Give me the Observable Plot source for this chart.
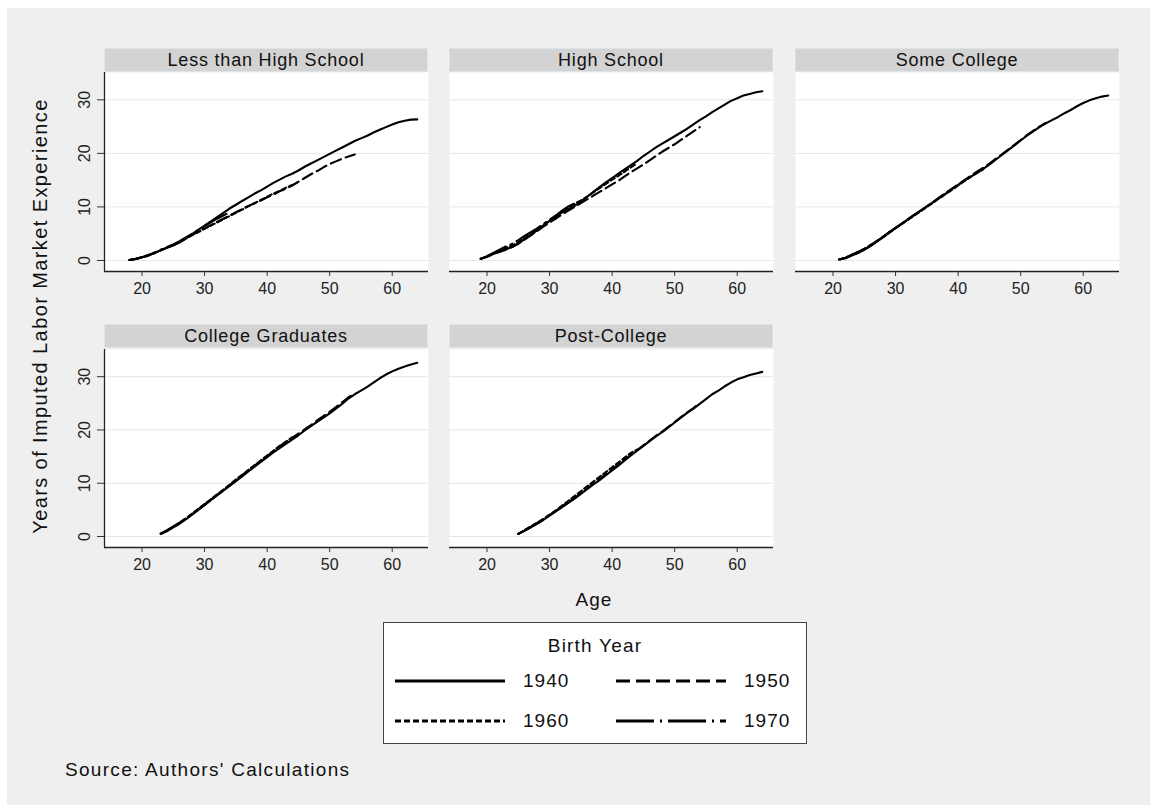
<!DOCTYPE html>
<html><head><meta charset="utf-8">
<script src="https://cdn.jsdelivr.net/npm/d3@7"></script>
<script src="https://cdn.jsdelivr.net/npm/@observablehq/plot@0.6"></script>
<style>
body{margin:0;background:#fff;font-family:"Liberation Sans",Arial,sans-serif;}
#page{position:relative;width:1157px;height:810px;overflow:hidden;}
#bg{position:absolute;left:7px;top:8px;width:1143px;height:797px;background:#efefef;}
.strip{position:absolute;height:24px;background:#d3d3d3;border:1px solid #dbe5e9;box-sizing:border-box;text-align:center;font-size:18px;letter-spacing:0.8px;line-height:22px;color:#111;}
.panel{position:absolute;}
.panel svg{overflow:visible;background:transparent;}
#ytitle{position:absolute;left:40px;top:316px;transform:translate(-50%,-50%) rotate(-90deg);font-size:20px;letter-spacing:1.4px;white-space:nowrap;color:#111;}
#xtitle{position:absolute;left:594px;top:600px;transform:translate(-50%,-50%);font-size:19px;letter-spacing:1px;color:#111;}
#legend{position:absolute;left:383px;top:622px;width:424px;height:122px;background:#fff;border:1px solid #444;box-sizing:border-box;}
#legend .ttl{position:absolute;left:0;width:100%;top:12px;text-align:center;font-size:19px;letter-spacing:1.2px;color:#111;}
#legend .item{position:absolute;font-size:19px;letter-spacing:1px;color:#111;}
#source{position:absolute;left:65px;top:759px;font-size:19px;letter-spacing:1.3px;color:#111;}
</style></head>
<body><div id="page"><div id="bg"></div></div>
<script>
// ---- data ----
const panels = ["Less than High School", "High School", "Some College", "College Graduates", "Post-College"];
const cohorts = ["1940", "1950", "1960", "1970"];
const startAges = [18, 19, 21, 23, 25];
const xTicks = [20, 30, 40, 50, 60];
const yTicks = [0, 10, 20, 30];

// Less than High School (ages from 18)
const lessHS_1940 = [0.1,0.3,0.6,0.9,1.4,1.9,2.4,2.8,3.4,4.1,4.9,5.7,6.5,7.3,8.1,8.9,9.7,10.4,11.1,11.8,12.5,13.1,13.8,14.5,15.1,15.7,16.2,16.8,17.5,18.1,18.7,19.3,19.9,20.5,21.1,21.7,22.3,22.8,23.3,23.9,24.4,24.9,25.4,25.8,26.1,26.3,26.35];
const lessHS_1950 = [0.1,0.3,0.6,0.9,1.4,1.9,2.4,2.8,3.4,4.1,4.8,5.4,6.0,6.6,7.2,7.8,8.4,9.0,9.6,10.2,10.7,11.2,11.8,12.3,12.9,13.4,14.0,14.7,15.4,16.1,16.7,17.4,18.0,18.5,19.0,19.4,19.8];
const lessHS_1960 = [0.1,0.3,0.6,1.0,1.4,1.9,2.4,2.9,3.5,4.1,4.7,5.3,5.9,6.5,7.1,7.7,8.3,8.9,9.5,10.1,10.7,11.3,11.9,12.5,13.0,13.6,14.1];
const lessHS_1970 = [0.1,0.3,0.6,1.0,1.5,2.0,2.5,3.0,3.6,4.3,5.0,5.7,6.4,7.1,7.8,8.4,9.0];

// High School (ages from 19)
const hs_1940 = [0.3,0.7,1.2,1.7,2.1,2.5,3.2,4.0,4.8,5.6,6.5,7.4,8.2,9.0,9.6,10.2,11.0,11.9,12.8,13.7,14.6,15.4,16.2,17.0,17.8,18.6,19.5,20.3,21.1,21.8,22.5,23.2,23.9,24.6,25.4,26.2,26.9,27.7,28.4,29.1,29.8,30.3,30.8,31.1,31.4,31.6];
const hs_1950 = [0.3,0.7,1.2,1.6,2.0,2.5,3.1,3.9,4.7,5.5,6.3,7.1,7.8,8.6,9.3,10.0,10.7,11.4,12.1,12.8,13.5,14.2,14.9,15.7,16.5,17.2,17.9,18.7,19.5,20.3,21.0,21.7,22.5,23.3,24.1,24.9];
const hs_1960 = [0.3,0.8,1.3,1.8,2.3,2.8,3.4,4.2,5.0,5.8,6.6,7.4,8.3,9.1,9.9,10.6,11.2,11.9,12.7,13.5,14.3,15.1,15.8,16.6,17.4,18.1];
const hs_1970 = [0.3,0.8,1.4,2.0,2.6,3.1,3.8,4.6,5.3,6.0,6.8,7.6,8.4,9.3,10.1,10.7];

// Some College (ages from 21)
const sc_1940 = [0.2,0.4,0.9,1.4,2.0,2.7,3.5,4.3,5.2,6.1,6.9,7.7,8.5,9.3,10.1,10.9,11.7,12.5,13.3,14.1,14.9,15.6,16.4,17.1,17.9,18.8,19.7,20.6,21.5,22.4,23.3,24.1,24.9,25.6,26.2,26.8,27.5,28.1,28.8,29.4,29.9,30.3,30.6,30.8];
const sc_1950 = [0.2,0.5,1.0,1.5,2.1,2.8,3.6,4.4,5.3,6.1,6.9,7.7,8.5,9.3,10.1,10.9,11.8,12.6,13.4,14.2,15.0,15.8,16.6,17.3,18.1,19.0,19.8,20.7,21.6,22.5,23.4,24.2,25.0,25.7];
const sc_1960 = [0.2,0.5,1.0,1.6,2.2,2.9,3.6,4.4,5.2,6.0,6.8,7.6,8.4,9.2,10.0,10.8,11.6,12.4,13.2,14.0,14.8,15.6,16.3,17.0];
const sc_1970 = [0.2,0.5,1.1,1.6,2.1,2.8,3.6,4.4,5.3,6.1,6.9,7.7,8.5,9.3];

// College Graduates (ages from 23)
const cg_1940 = [0.5,1.0,1.7,2.4,3.2,4.1,5.0,5.9,6.8,7.7,8.6,9.5,10.4,11.3,12.2,13.1,14.0,14.9,15.8,16.6,17.4,18.2,19.0,19.9,20.7,21.5,22.3,23.1,24.0,24.9,25.9,26.7,27.4,28.1,28.9,29.7,30.4,31.0,31.5,31.9,32.3,32.6];
const cg_1950 = [0.5,1.1,1.8,2.5,3.3,4.2,5.1,6.0,6.9,7.8,8.7,9.6,10.5,11.5,12.4,13.3,14.2,15.1,16.0,16.9,17.7,18.5,19.3,20.1,20.9,21.8,22.6,23.4,24.3,25.2,26.1,26.9];
const cg_1960 = [0.5,1.1,1.8,2.6,3.4,4.3,5.2,6.1,7.0,7.9,8.8,9.7,10.7,11.6,12.5,13.4,14.3,15.2,16.1,17.0,17.8,18.6];
const cg_1970 = [0.6,1.2,1.9,2.6,3.4,4.2,5.1,6.0,6.9,7.8,8.7,9.6];

// Post-College (ages from 25)
const pc_1940 = [0.5,1.1,1.7,2.4,3.1,3.9,4.7,5.5,6.3,7.1,8.0,8.9,9.8,10.6,11.5,12.4,13.3,14.3,15.2,16.1,17.0,17.9,18.8,19.6,20.5,21.4,22.3,23.2,24.0,24.9,25.8,26.7,27.4,28.2,28.9,29.5,29.9,30.3,30.6,30.9];
const pc_1950 = [0.5,1.1,1.8,2.5,3.2,4.0,4.8,5.6,6.4,7.2,8.1,9.0,9.9,10.8,11.7,12.6,13.5,14.4,15.3,16.2,17.1,18.0,18.9,19.7,20.6,21.5,22.4,23.3,24.1,25.0];
const pc_1960 = [0.5,1.2,1.9,2.6,3.3,4.1,4.9,5.8,6.7,7.6,8.5,9.4,10.3,11.2,12.1,13.0,13.9,14.8,15.7,16.3];
const pc_1970 = [0.5,1.1,1.8,2.5,3.2,4.0,4.8,5.6,6.4,7.2];

const series = [
  [lessHS_1940, lessHS_1950, lessHS_1960, lessHS_1970],
  [hs_1940, hs_1950, hs_1960, hs_1970],
  [sc_1940, sc_1950, sc_1960, sc_1970],
  [cg_1940, cg_1950, cg_1960, cg_1970],
  [pc_1940, pc_1950, pc_1960, pc_1970]
];

// ---- styles / layout ----
const dash = {"1940": null, "1950": "11,5", "1960": "5,3", "1970": "28,5,2,5"};
const legendDash = {"1940": null, "1950": "14,6", "1960": "6,3", "1970": "38,6,2,6"};
const cols = [104, 449, 795];
const rows = [{strip: 48, top: 72, h: 199}, {strip: 324, top: 349, h: 198}];
const W = 324, mL = 50, mR = 10, mB = 40;
const xDomain = [14, 65.8], yDomain = [-2.06, 35.1];

const page = document.getElementById("page");

panels.forEach((name, p) => {
  const col = p % 3, row = rows[Math.floor(p / 3)];
  const rowsData = [];
  cohorts.forEach((c, k) => series[p][k].forEach((v, i) => rowsData.push({cohort: c, age: startAges[p] + i, exp: v})));

  const strip = document.createElement("div");
  strip.className = "strip";
  strip.style.left = cols[col] + "px";
  strip.style.top = row.strip + "px";
  strip.style.width = W + "px";
  strip.textContent = name;
  page.appendChild(strip);

  const marks = [
    Plot.frame({fill: "white", stroke: null}),
    Plot.gridY(yTicks, {stroke: "#e6e6e6", strokeOpacity: 1}),
    ...cohorts.slice().reverse().map(c => Plot.line(rowsData.filter(d => d.cohort === c), {
      x: "age", y: "exp", stroke: "#000", strokeWidth: 2.1, strokeDasharray: dash[c]
    })),
    Plot.ruleY([yDomain[0]], {stroke: "#222", strokeWidth: 1.3}),
    Plot.axisX(xTicks, {tickSize: 5, tickPadding: 6, fontSize: 16, stroke: "#333", fill: "#222", label: null})
  ];
  if (col === 0) {
    marks.push(
      Plot.ruleX([xDomain[0]], {stroke: "#222", strokeWidth: 1.3}),
      Plot.axisY(yTicks, {tickSize: 7, tickFormat: () => "", stroke: "#333", label: null}),
      Plot.text(yTicks, {y: d => d, text: d => String(d), frameAnchor: "left", rotate: -90, dx: -20,
        textAnchor: "middle", lineAnchor: "middle", fontSize: 16, fill: "#222"})
    );
  }
  const chart = Plot.plot({
    width: mL + W + mR, height: row.h + mB,
    marginLeft: mL, marginRight: mR, marginTop: 0, marginBottom: mB,
    x: {domain: xDomain, label: null},
    y: {domain: yDomain, label: null, axis: col === 0 ? undefined : null},
    style: {background: "transparent", fontFamily: "Liberation Sans, Arial, sans-serif", overflow: "visible"},
    marks
  });
  const holder = document.createElement("div");
  holder.className = "panel";
  holder.style.left = (cols[col] - mL) + "px";
  holder.style.top = row.top + "px";
  holder.appendChild(chart);
  page.appendChild(holder);
});

// titles
const yt = document.createElement("div"); yt.id = "ytitle"; yt.textContent = "Years of Imputed Labor Market Experience"; page.appendChild(yt);
const xt = document.createElement("div"); xt.id = "xtitle"; xt.textContent = "Age"; page.appendChild(xt);

// legend
const lg = document.createElement("div"); lg.id = "legend";
lg.innerHTML = '<div class="ttl">Birth Year</div>';
const legPos = [{x: 10, y: 58}, {x: 231, y: 58}, {x: 10, y: 98}, {x: 231, y: 98}];
cohorts.forEach((c, i) => {
  const it = document.createElement("div");
  it.className = "item";
  it.style.left = legPos[i].x + "px";
  it.style.top = (legPos[i].y - 12) + "px";
  it.style.display = "flex"; it.style.alignItems = "center";
  it.innerHTML = `<svg width="112" height="24" style="margin-right:17px"><line x1="1" x2="111" y1="12" y2="12" stroke="#000" stroke-width="3" ${legendDash[c] ? `stroke-dasharray="${legendDash[c]}"` : ""}/></svg><span>${c}</span>`;
  lg.appendChild(it);
});
page.appendChild(lg);

const src = document.createElement("div"); src.id = "source"; src.textContent = "Source: Authors' Calculations"; page.appendChild(src);
</script>
</body></html>
